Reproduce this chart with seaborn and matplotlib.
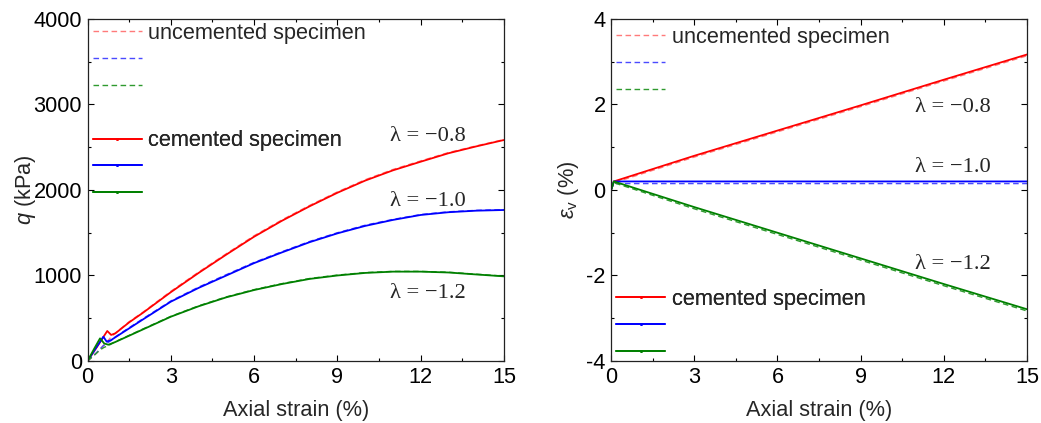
import matplotlib
matplotlib.use("Agg")
import matplotlib.pyplot as plt
from matplotlib.lines import Line2D
from matplotlib.ticker import MultipleLocator
import seaborn as sns
import pandas as pd

# ---------------- data ----------------
# left panel: deviator stress q (kPa) vs axial strain (%)
strain_q_red = [0, 0.35, 0.71, 0.85, 1.0, 1.5, 2, 3, 4, 5, 6, 7, 8, 9, 10, 11, 12, 13, 14, 15]
q_red_cem = [0, 170, 351, 305, 323, 452, 565, 805, 1030, 1245, 1454, 1640, 1810, 1968, 2110, 2230, 2331, 2430, 2510, 2585]
q_red_unc = [0, 100, 230, 280, 325, 460, 572, 815, 1040, 1255, 1465, 1650, 1820, 1978, 2120, 2240, 2340, 2438, 2516, 2590]

strain_q_blue = [0, 0.3, 0.57, 0.69, 0.85, 1.0, 1.5, 2, 3, 4, 5, 6, 7, 8, 9, 10, 11, 12, 13, 14, 15]
q_blue_cem = [0, 150, 284, 226, 245, 277, 382, 487, 694, 855, 1000, 1145, 1270, 1390, 1493, 1580, 1650, 1708, 1740, 1758, 1766]
q_blue_unc = [0, 90, 180, 205, 240, 282, 390, 495, 702, 864, 1010, 1153, 1278, 1398, 1500, 1588, 1656, 1713, 1745, 1762, 1770]

strain_q_green = [0, 0.25, 0.45, 0.6, 0.75, 1.0, 1.5, 2, 3, 4, 5, 6, 7, 8, 9, 10, 11, 12, 13, 14, 15]
q_green_cem = [0, 150, 265, 205, 190, 222, 296, 370, 518, 640, 745, 830, 900, 960, 1000, 1030, 1045, 1045, 1035, 1012, 990]
q_green_unc = [0, 70, 130, 160, 180, 225, 300, 375, 522, 645, 750, 835, 905, 965, 1005, 1034, 1048, 1048, 1038, 1015, 993]

# right panel: volumetric strain (%) vs axial strain (%)
strain_v = [0, 0.1, 3, 6, 9, 12, 15]
ev_red_cem = [0, 0.2, 0.80, 1.39, 1.98, 2.58, 3.17]
ev_red_unc = [0, 0.17, 0.77, 1.36, 1.95, 2.55, 3.14]
ev_blue_cem = [0, 0.2, 0.2, 0.2, 0.2, 0.2, 0.2]
ev_blue_unc = [0, 0.15, 0.15, 0.15, 0.15, 0.15, 0.15]
ev_green_cem = [0, 0.2, -0.40, -1.00, -1.60, -2.20, -2.79]
ev_green_unc = [0, 0.17, -0.44, -1.04, -1.64, -2.24, -2.83]

lambda_labels = ["λ = −0.8", "λ = −1.0", "λ = −1.2"]
legend_labels = ["uncemented specimen", "cemented specimen"]

# ---------------- style ----------------
sns.set_theme(style="ticks")
plt.rcParams["font.family"] = ["Liberation Sans", "DejaVu Sans"]
plt.rcParams["mathtext.fontset"] = "custom"
plt.rcParams["mathtext.rm"] = "Liberation Sans"
plt.rcParams["mathtext.it"] = "Liberation Sans:italic"
plt.rcParams["axes.unicode_minus"] = False
FS = 15.7

solid_cols = ["#ff0000", "#0000ff", "#008000"]
dash_cols = ["#ff7a7a", "#4a4aff", "#2f9a2f"]
DASH = (0, (4, 2.5))

fig = plt.figure(figsize=(10.41, 4.23), dpi=100)
axL = fig.add_axes([0.0841, 0.1466, 0.4001, 0.8085])
axR = fig.add_axes([0.5870, 0.1466, 0.3996, 0.8085])


def draw(ax, x, y, color, ls, lw):
    df = pd.DataFrame({"x": x, "y": y})
    sns.lineplot(data=df, x="x", y="y", ax=ax, color=color, linestyle=ls,
                 linewidth=lw, sort=False, estimator=None)


q_sets = [(strain_q_red, q_red_unc, q_red_cem),
          (strain_q_blue, q_blue_unc, q_blue_cem),
          (strain_q_green, q_green_unc, q_green_cem)]
for i, (xs, unc, cem) in enumerate(q_sets):
    draw(axL, xs, unc, dash_cols[i], DASH, 1.0)
    draw(axL, xs, cem, solid_cols[i], "-", 1.3)

v_sets = [(ev_red_unc, ev_red_cem), (ev_blue_unc, ev_blue_cem), (ev_green_unc, ev_green_cem)]
for i, (unc, cem) in enumerate(v_sets):
    draw(axR, strain_v, unc, dash_cols[i], DASH, 1.0)
    draw(axR, strain_v, cem, solid_cols[i], "-", 1.3)

# axes formatting
for ax in (axL, axR):
    ax.set_xlim(0, 15)
    ax.xaxis.set_major_locator(MultipleLocator(3))
    ax.xaxis.set_minor_locator(MultipleLocator(1.5))
    ax.tick_params(which="both", direction="in", top=True, right=True,
                   labelsize=FS, colors="black", pad=4)
    ax.tick_params(which="major", length=4.5, width=0.8)
    ax.tick_params(which="minor", length=2.5, width=0.8)
    for s in ax.spines.values():
        s.set_visible(True)
        s.set_color("#222222")
        s.set_linewidth(0.9)
    ax.set_xlabel("Axial strain (%)", fontsize=FS, labelpad=9)

axL.set_ylim(0, 4000)
axL.yaxis.set_major_locator(MultipleLocator(1000))
axL.yaxis.set_minor_locator(MultipleLocator(500))
axL.set_ylabel(r"$q$ (kPa)", fontsize=FS, labelpad=-3)

axR.set_ylim(-4, 4)
axR.yaxis.set_major_locator(MultipleLocator(2))
axR.yaxis.set_minor_locator(MultipleLocator(1))
axR.set_ylabel(r"$\varepsilon_{\rm v}$ (%)", fontsize=FS, labelpad=4)

# lambda annotations
serif = ["Liberation Serif", "DejaVu Serif"]
FS_SERIF = 16.2
for (x, y), t in zip([(12.26, 2620), (12.26, 1860), (12.26, 795)], lambda_labels):
    axL.text(x, y, t, fontsize=FS_SERIF, family=serif, ha="center", va="center")
for (x, y), t in zip([(12.33, 1.94), (12.33, 0.515), (12.33, -1.75)], lambda_labels):
    axR.text(x, y, t, fontsize=FS_SERIF, family=serif, ha="center", va="center")


def handles(cols, ls, lw, marker):
    return [Line2D([], [], color=c, linestyle=ls, linewidth=lw,
                   marker=marker, markersize=2) for c in cols]


def add_legend(ax, hs, label, anchor, loc):
    leg = ax.legend(hs, [label, " ", " "], loc=loc, bbox_to_anchor=anchor,
                    frameon=False, fontsize=FS, handlelength=2.25,
                    handletextpad=0.3, labelspacing=0.27, borderpad=0.0,
                    borderaxespad=0.0)
    ax.add_artist(leg)
    return leg


add_legend(axL, handles(dash_cols, DASH, 1.0, None), legend_labels[0], (0.012, 0.988), "upper left")
add_legend(axL, handles(solid_cols, "-", 1.3, "."), legend_labels[1], (0.012, 0.675), "upper left")
add_legend(axR, handles(dash_cols, DASH, 1.0, None), legend_labels[0], (0.012, 0.978), "upper left")
add_legend(axR, handles(solid_cols, "-", 1.3, "."), legend_labels[1], (0.012, -0.008), "lower left")

fig.savefig("out.png", dpi=100)
